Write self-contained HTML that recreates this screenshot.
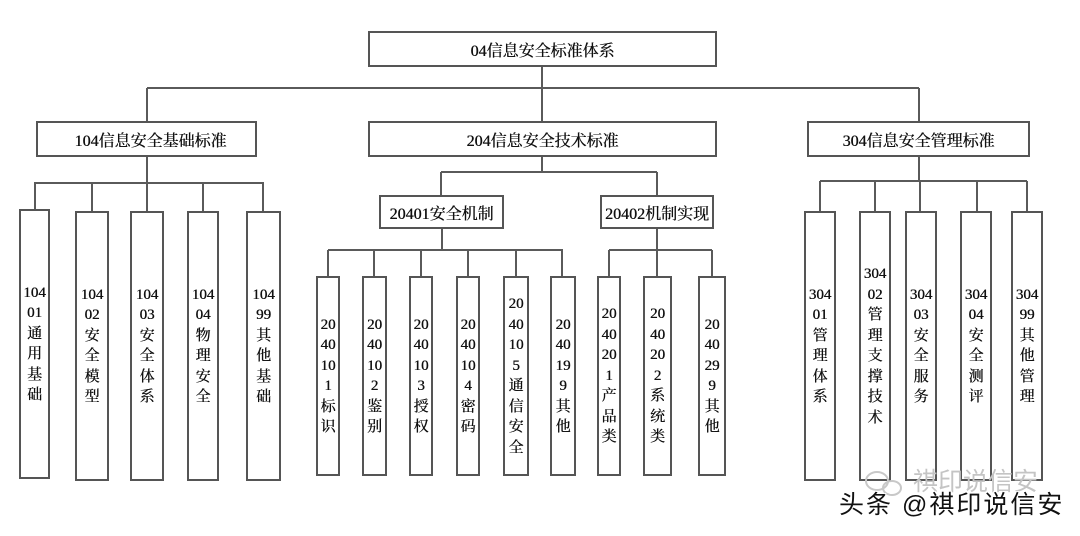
<!DOCTYPE html>
<html><head><meta charset="utf-8">
<style>
html,body{margin:0;padding:0;background:#fff;}
body{width:1080px;height:536px;position:relative;overflow:hidden;}
svg{position:absolute;left:0;top:0;}
.b{position:absolute;box-sizing:border-box;border:2px solid #555;background:#fff;display:flex;align-items:center;justify-content:center;text-align:center;color:#111;font-family:"Liberation Serif","Noto Serif CJK SC",serif;white-space:nowrap;text-shadow:0.4px 0 0 #111;}
.h{font-size:16px;}
.v{font-size:15px;line-height:20.5px;}
.wm{position:absolute;font-family:"Liberation Sans","Noto Sans CJK SC",sans-serif;white-space:nowrap;}
</style></head><body>
<svg width="1080" height="536" viewBox="0 0 1080 536">
<g stroke="#5a5a5a" stroke-width="2" fill="none">
<line x1="542" y1="67" x2="542" y2="121"/>
<line x1="147" y1="88" x2="919" y2="88"/>
<line x1="147" y1="88" x2="147" y2="121"/>
<line x1="919" y1="88" x2="919" y2="121"/>
<line x1="147" y1="157" x2="147" y2="183"/>
<line x1="34" y1="183" x2="264" y2="183"/>
<line x1="35" y1="183" x2="35" y2="210"/>
<line x1="92" y1="183" x2="92" y2="211"/>
<line x1="147" y1="183" x2="147" y2="211"/>
<line x1="203" y1="183" x2="203" y2="211"/>
<line x1="263" y1="183" x2="263" y2="211"/>
<line x1="542" y1="157" x2="542" y2="172"/>
<line x1="441" y1="172" x2="657" y2="172"/>
<line x1="441" y1="172" x2="441" y2="195"/>
<line x1="657" y1="172" x2="657" y2="195"/>
<line x1="442" y1="229" x2="442" y2="250"/>
<line x1="328" y1="250" x2="563" y2="250"/>
<line x1="328" y1="250" x2="328" y2="276"/>
<line x1="374" y1="250" x2="374" y2="276"/>
<line x1="421" y1="250" x2="421" y2="276"/>
<line x1="468" y1="250" x2="468" y2="276"/>
<line x1="516" y1="250" x2="516" y2="276"/>
<line x1="562" y1="250" x2="562" y2="276"/>
<line x1="657" y1="229" x2="657" y2="250"/>
<line x1="609" y1="250" x2="712" y2="250"/>
<line x1="609" y1="250" x2="609" y2="276"/>
<line x1="657" y1="250" x2="657" y2="276"/>
<line x1="712" y1="250" x2="712" y2="276"/>
<line x1="919" y1="157" x2="919" y2="181"/>
<line x1="820" y1="181" x2="1027" y2="181"/>
<line x1="820" y1="181" x2="820" y2="211"/>
<line x1="875" y1="181" x2="875" y2="211"/>
<line x1="920" y1="181" x2="920" y2="211"/>
<line x1="977" y1="181" x2="977" y2="211"/>
<line x1="1027" y1="181" x2="1027" y2="211"/>
</g>
</svg>

<div class="b h" style="left:368px;top:31px;width:349px;height:36px;">04信息安全标准体系</div>
<div class="b h" style="left:36px;top:121px;width:221px;height:36px;padding-left:8px;">104信息安全基础标准</div>
<div class="b h" style="left:368px;top:121px;width:349px;height:36px;">204信息安全技术标准</div>
<div class="b h" style="left:807px;top:121px;width:223px;height:36px;">304信息安全管理标准</div>
<div class="b h" style="left:379px;top:195px;width:125px;height:34px;">20401安全机制</div>
<div class="b h" style="left:600px;top:195px;width:114px;height:34px;">20402机制实现</div>

<div class="b v" style="left:19px;top:209px;width:31px;height:270px;">104<br>01<br>通<br>用<br>基<br>础</div>
<div class="b v" style="left:75px;top:211px;width:34px;height:270px;">104<br>02<br>安<br>全<br>模<br>型</div>
<div class="b v" style="left:130px;top:211px;width:34px;height:270px;">104<br>03<br>安<br>全<br>体<br>系</div>
<div class="b v" style="left:187px;top:211px;width:32px;height:270px;">104<br>04<br>物<br>理<br>安<br>全</div>
<div class="b v" style="left:246px;top:211px;width:35px;height:270px;">104<br>99<br>其<br>他<br>基<br>础</div>

<div class="b v" style="left:316px;top:276px;width:24px;height:200px;">20<br>40<br>10<br>1<br>标<br>识</div>
<div class="b v" style="left:362px;top:276px;width:25px;height:200px;">20<br>40<br>10<br>2<br>鉴<br>别</div>
<div class="b v" style="left:409px;top:276px;width:24px;height:200px;">20<br>40<br>10<br>3<br>授<br>权</div>
<div class="b v" style="left:456px;top:276px;width:24px;height:200px;">20<br>40<br>10<br>4<br>密<br>码</div>
<div class="b v" style="left:503px;top:276px;width:26px;height:200px;">20<br>40<br>10<br>5<br>通<br>信<br>安<br>全</div>
<div class="b v" style="left:550px;top:276px;width:26px;height:200px;">20<br>40<br>19<br>9<br>其<br>他</div>
<div class="b v" style="left:597px;top:276px;width:24px;height:200px;">20<br>40<br>20<br>1<br>产<br>品<br>类</div>
<div class="b v" style="left:643px;top:276px;width:29px;height:200px;">20<br>40<br>20<br>2<br>系<br>统<br>类</div>
<div class="b v" style="left:698px;top:276px;width:28px;height:200px;">20<br>40<br>29<br>9<br>其<br>他</div>

<div class="b v" style="left:804px;top:211px;width:32px;height:270px;">304<br>01<br>管<br>理<br>体<br>系</div>
<div class="b v" style="left:859px;top:211px;width:32px;height:270px;">304<br>02<br>管<br>理<br>支<br>撑<br>技<br>术</div>
<div class="b v" style="left:905px;top:211px;width:32px;height:270px;">304<br>03<br>安<br>全<br>服<br>务</div>
<div class="b v" style="left:960px;top:211px;width:32px;height:270px;">304<br>04<br>安<br>全<br>测<br>评</div>
<div class="b v" style="left:1011px;top:211px;width:32px;height:270px;">304<br>99<br>其<br>他<br>管<br>理</div>

<svg width="1080" height="536" viewBox="0 0 1080 536" style="pointer-events:none">
<g fill="none" stroke="#c8c8c8" stroke-width="2">
<ellipse cx="877" cy="481" rx="11" ry="9"/>
<ellipse cx="892" cy="488" rx="9" ry="7"/>
</g>
</svg>
<div class="wm" style="left:913px;top:467px;font-size:25px;line-height:30px;color:#c4c4c4;">祺印说信安</div>
<div class="wm" style="left:839px;top:490px;font-size:25px;line-height:30px;color:#111;letter-spacing:2px;text-shadow:1px 1px 0 #fff,-1px -1px 0 #fff,1px -1px 0 #fff,-1px 1px 0 #fff;">头条 @祺印说信安</div>
</body></html>
